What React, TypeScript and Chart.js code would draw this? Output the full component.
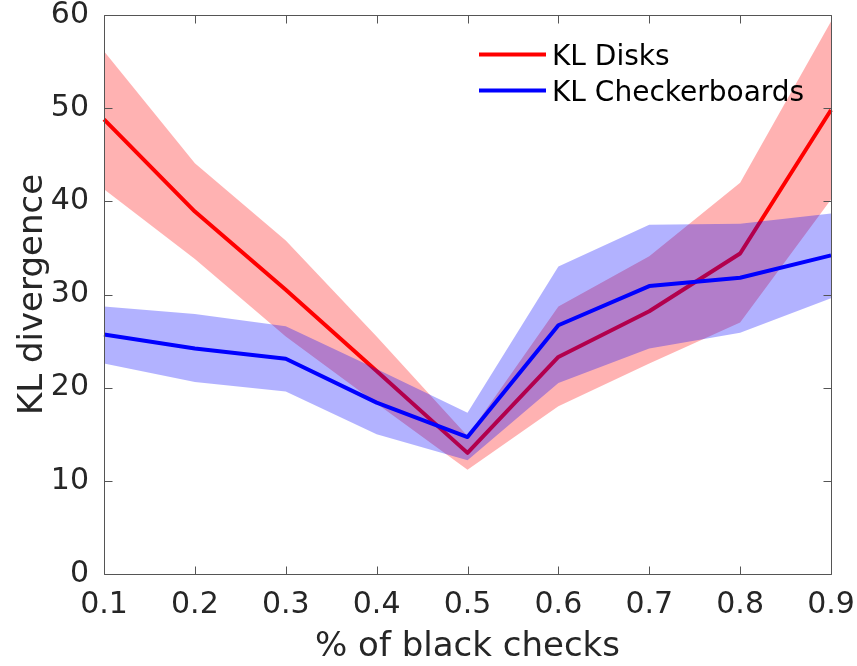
import React, { useEffect, useRef } from 'react';
import { Chart, registerables } from 'chart.js';

Chart.register(...registerables);

const xLabels = ['0.1', '0.2', '0.3', '0.4', '0.5', '0.6', '0.7', '0.8', '0.9'];
const yTicks = [0, 10, 20, 30, 40, 50, 60];

const redMean = [48.8, 38.9, 30.5, 21.8, 13.0, 23.3, 28.2, 34.4, 49.8];
const redUpper = [56.1, 44.1, 35.8, 25.5, 14.8, 28.7, 34.1, 42.0, 59.3];
const redLower = [41.3, 33.8, 25.5, 18.3, 11.2, 18.0, 22.6, 27.0, 40.2];

const blueMean = [25.7, 24.2, 23.1, 18.4, 14.7, 26.7, 30.9, 31.8, 34.2];
const blueUpper = [28.7, 27.9, 26.6, 22.0, 17.3, 33.0, 37.5, 37.6, 38.7];
const blueLower = [22.6, 20.6, 19.6, 15.0, 12.2, 20.5, 24.2, 25.9, 29.6];

const legendLabels = ['KL Disks', 'KL Checkerboards'];
const legendColors = ['#ff0000', '#0000ff'];

const FONT = 'DejaVu Sans';
const TEXT = '#262626';

const framePlugin = {
  id: 'frameAndLegend',
  afterDatasetsDraw(chart: any) {
    const { ctx, chartArea, scales } = chart;
    const { left, right, top, bottom } = chartArea;
    const xs = scales.x;
    const ys = scales.y;
    ctx.save();
    ctx.strokeStyle = '#555555';
    ctx.lineWidth = 1;
    const L = Math.round(left) + 0.5;
    const R = Math.round(right) + 0.5;
    const T = Math.round(top) + 0.5;
    const B = Math.round(bottom) + 0.5;
    ctx.beginPath();
    ctx.moveTo(L, T);
    ctx.lineTo(R, T);
    ctx.lineTo(R, B);
    ctx.lineTo(L, B);
    ctx.closePath();
    ctx.stroke();
    const tl = 8;
    ctx.beginPath();
    xs.ticks.forEach((_t: any, i: number) => {
      const px = Math.round(xs.getPixelForTick(i)) + 0.5;
      ctx.moveTo(px, B);
      ctx.lineTo(px, B - tl);
      ctx.moveTo(px, T);
      ctx.lineTo(px, T + tl);
    });
    ys.ticks.forEach((t: any) => {
      const py = Math.round(ys.getPixelForValue(t.value)) + 0.5;
      ctx.moveTo(L, py);
      ctx.lineTo(L + tl, py);
      ctx.moveTo(R, py);
      ctx.lineTo(R - tl, py);
    });
    ctx.stroke();

    // legend
    const lx0 = 479;
    const lx1 = 546;
    const rows = [54.5, 90.5];
    ctx.lineWidth = 4;
    ctx.font = `28px "${FONT}"`;
    ctx.textBaseline = 'alphabetic';
    ctx.textAlign = 'left';
    legendLabels.forEach((lab, i) => {
      ctx.strokeStyle = legendColors[i];
      ctx.beginPath();
      ctx.moveTo(lx0, rows[i]);
      ctx.lineTo(lx1, rows[i]);
      ctx.stroke();
      ctx.fillStyle = '#000000';
      ctx.fillText(lab, 552, rows[i] + 10.5);
    });
    ctx.restore();
  },
};

export default function App() {
  const ref = useRef<HTMLCanvasElement | null>(null);
  useEffect(() => {
    if (!ref.current) return;
    const bandR = 'rgba(255,0,0,0.3)';
    const bandB = 'rgba(0,0,255,0.3)';
    const chart = new Chart(ref.current, {
      type: 'line',
      data: {
        labels: xLabels,
        datasets: [
          { data: redUpper, borderWidth: 0, pointRadius: 0, fill: '+1', backgroundColor: bandR, borderColor: 'transparent', order: 5 },
          { data: redLower, borderWidth: 0, pointRadius: 0, fill: false, borderColor: 'transparent', order: 4 },
          { data: redMean, borderWidth: 4, pointRadius: 0, fill: false, borderColor: '#ff0000', borderJoinStyle: 'round', order: 3 },
          { data: blueUpper, borderWidth: 0, pointRadius: 0, fill: '+1', backgroundColor: bandB, borderColor: 'transparent', order: 2 },
          { data: blueLower, borderWidth: 0, pointRadius: 0, fill: false, borderColor: 'transparent', order: 1 },
          { data: blueMean, borderWidth: 4, pointRadius: 0, fill: false, borderColor: '#0000ff', borderJoinStyle: 'round', order: 0 },
        ],
      } as any,
      options: {
        responsive: false,
        animation: false,
        layout: { padding: { top: 15, right: 26, left: 0, bottom: 0 } },
        plugins: { legend: { display: false }, tooltip: { enabled: false } },
        scales: {
          x: {
            type: 'category',
            offset: false,
            grid: { display: false, drawTicks: false },
            border: { display: false },
            ticks: { font: { family: FONT, size: 30 }, color: TEXT, padding: 13, maxRotation: 0, autoSkip: false },
            title: { display: true, text: '% of black checks', font: { family: FONT, size: 34 }, color: TEXT, padding: { top: 0, bottom: -2 } },
            afterFit(s: any) {
              s.height = 92;
              s.paddingLeft = 0;
              s.paddingRight = 0;
            },
          },
          y: {
            min: 0,
            max: 60,
            afterBuildTicks(s: any) {
              s.ticks = yTicks.map((v) => ({ value: v }));
            },
            grid: { display: false, drawTicks: false },
            border: { display: false },
            ticks: { font: { family: FONT, size: 30 }, color: TEXT, padding: 15 },
            title: { display: true, text: 'KL divergence', font: { family: FONT, size: 34 }, color: TEXT, padding: { top: 13, bottom: 0 } },
            afterFit(s: any) {
              s.width = 104;
              s.paddingTop = 0;
              s.paddingBottom = 0;
            },
          },
        },
      } as any,
      plugins: [framePlugin],
    });
    return () => chart.destroy();
  }, []);
  return (
    <canvas
      ref={ref}
      width={857}
      height={666}
      style={{ position: 'absolute', left: 0, top: 0, display: 'block', background: '#ffffff' }}
    />
  );
}
